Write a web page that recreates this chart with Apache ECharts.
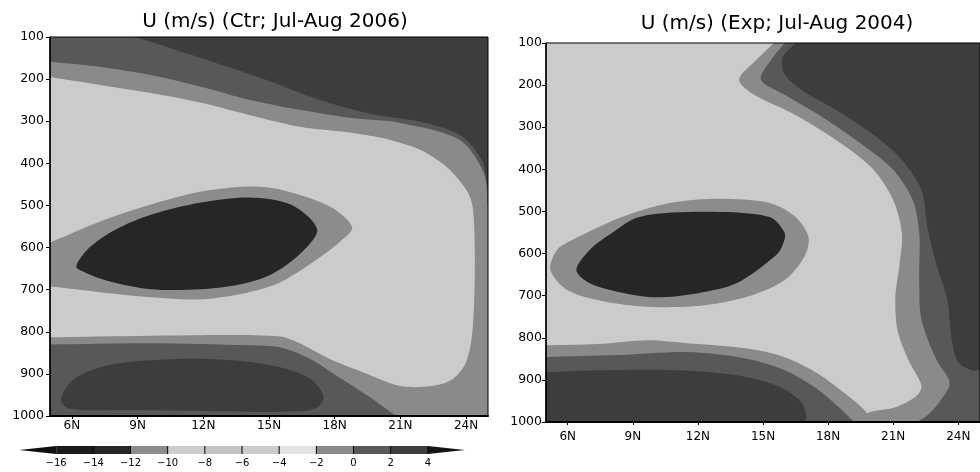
<!DOCTYPE html>
<html>
<head>
<meta charset="utf-8">
<title>U (m/s) cross sections</title>
<script src="https://cdn.jsdelivr.net/npm/echarts@6/dist/echarts.min.js"></script>
<style>
  html, body { margin: 0; padding: 0; background: #fff; }
  #main { width: 980px; height: 472px; }
</style>
</head>
<body>
<div id="main"></div>
<script>
// shading levels of U (m/s) and the grey of each interval
var levels = [-16, -14, -12, -10, -8, -6, -4, -2, 0, 2, 4];
var shades = ['#0f0f0f', '#1b1b1b', '#262626', '#8c8c8c', '#cdcdcd', '#c4c4c4',
              '#cbcbcb', '#e2e2e2', '#8a8a8a', '#585858', '#3d3d3d', '#141414'];
var barEnds = [-18, 6];

var latRange = [5, 25];
var presRange = [100, 1000];
var latTicks = [6, 9, 12, 15, 18, 21, 24];

// filled contour regions, [lat, hPa]
// Ctr; Jul-Aug 2006
var ctrBase = [[5,100],[25,100],[25,1000],[5,1000]];
var ctrBroad = [[5,195],[7.3,214],[9.6,233],[11.9,256],[14.1,285],[16.4,313],[18.7,327],[20.5,344],
    [21.9,368],[23.1,408],[24.0,462],[24.3,503],[24.4,628],[24.3,794],[24.0,872],[23.4,912],[22.4,929],
    [21.0,929],[19.3,896],[17.8,865],[16.3,825],[15.5,811],[11.9,808],[7.3,811],[5,813]];
var ctrUpper = [[5,100],[25,100],[25,503],[24.8,422],[23.7,344],[21.0,304],[18.7,292],[16.4,273],
    [14.1,249],[11.9,218],[9.6,190],[7.3,171],[5,159]];
var ctrUpperCore = [[8.9,100],[25,100],[25,462],[24.7,391],[23.7,332],[21.9,301],[19.6,282],[17.3,249],
    [14.6,197],[11.9,150]];
var ctrLow = [[5,830],[9.6,827],[14.1,832],[15.5,837],[16.9,865],[18.2,908],[19.6,955],[20.8,1000],[5,1000]];
var ctrLowCore = [[5.5,960],[6.1,912],[7.7,879],[10.5,865],[13.2,867],[15.5,884],[16.9,912],[17.5,955],
    [17.1,983],[15.5,990],[11.9,988],[8.2,986],[5.9,983]];
var ctrJet = [[5,588],[7.3,538],[9.6,498],[11.9,467],[14.1,455],[15.5,462],[17.8,503],[18.8,552],[18.2,588],
    [17.0,635],[15.5,683],[14.1,706],[11.9,723],[9.6,718],[7.3,706],[5,692]];
var ctrJetCore = [[6.2,645],[6.8,600],[8.0,557],[9.6,522],[11.9,493],[14.1,481],[16.0,498],[17.2,557],
    [16.4,616],[15.1,664],[13.7,687],[11.9,699],[9.6,699],[7.7,680],[6.6,659]];
var ctrShapes = [ctrBase, ctrBroad, ctrUpper, ctrUpperCore, ctrLow, ctrLowCore, ctrJet, ctrJetCore];
var ctrValues = [-1, -5, 1, 3, 1, 3, -11, -13];

// Exp; Jul-Aug 2004
var expBase = [[5,100],[25,100],[25,1000],[5,1000]];
var expUpper = [[15.5,100],[25,100],[25,1000],[19.6,1000],[19.8,979],[21.1,965],[22.1,937],[22.3,913],
    [21.7,853],[21.2,782],[21.1,704],[21.3,623],[21.4,551],[21.0,473],[20.1,401],[18.7,342],[16.5,271],
    [14.6,223],[13.9,187],[14.7,140]];
var expUpperMid = [[16.0,100],[25,100],[25,1000],[22.1,1000],[22.6,983],[23.2,948],[23.6,907],[23.0,853],
    [22.3,757],[22.2,669],[22.2,551],[21.9,473],[21.0,401],[19.6,342],[17.8,278],[16.0,223],[14.9,187],[15.3,145]];
var expUpperCore = [[16.5,100],[25,100],[25,877],[24.6,877],[24.0,858],[23.7,806],[23.5,711],[23.0,627],
    [22.6,544],[22.3,449],[21.4,378],[20.1,318],[18.5,263],[16.9,216],[16.0,175],[15.9,135]];
var expLow = [[5,818],[7.4,815],[9.7,806],[11.5,813],[14.2,825],[16.0,846],[17.5,884],[19.0,941],[19.8,979],
    [19.9,1000],[5,1000]];
var expLowMid = [[5,846],[8.4,841],[11.5,834],[14.2,849],[16.0,877],[17.4,918],[18.5,965],[19.2,1000],[5,1000]];
var expLowCore = [[5,882],[7.4,877],[11.1,877],[13.8,889],[15.6,913],[16.7,949],[17.0,984],[16.9,1000],[5,1000]];
var expJet = [[5.2,639],[5.5,592],[6.2,568],[8.5,513],[10.7,480],[13.0,470],[15.3,480],[16.5,513],[17.1,561],
    [16.9,608],[16.0,663],[14.5,699],[12.3,723],[10.0,727],[7.8,715],[6.0,687]];
var expJetCore = [[6.4,639],[7.0,592],[7.9,556],[9.3,513],[12.3,501],[15.3,513],[16.0,551],[15.9,580],
    [15.6,604],[13.8,670],[12.0,694],[10.0,704],[8.4,692],[7.0,670]];
var expShapes = [expBase, expUpper, expUpperMid, expUpperCore, expLow, expLowMid, expLowCore, expJet, expJetCore];
var expValues = [-5, -1, 1, 3, -1, 1, 3, -11, -13];

var font = 'DejaVu Sans';

function shadeOf(u) {
    var i = 0;
    while (i < levels.length && u >= levels[i]) i++;
    return shades[i];
}

function onEdge(d) {
    return d[0] === latRange[0] || d[0] === latRange[1] || d[1] === presRange[0] || d[1] === presRange[1];
}

function contourSeries(shapes, values, idx) {
    return {
        type: 'custom',
        xAxisIndex: idx,
        yAxisIndex: idx,
        clip: true,
        silent: true,
        data: values.map(function (u, i) { return [i, u]; }),
        renderItem: function (params, api) {
            var pts = [];
            shapes[params.dataIndex].forEach(function (d) {
                var c = api.coord(d);
                pts.push(c);
                // doubled points keep the smoothing straight along the frame
                if (onEdge(d)) pts.push(c.slice());
            });
            return {
                type: 'polygon',
                z2: params.dataIndex,
                shape: { points: pts, smooth: 0.3 },
                style: { fill: shadeOf(values[params.dataIndex]) }
            };
        }
    };
}

function latAxis(idx, margin) {
    return {
        type: 'value', gridIndex: idx, min: latRange[0], max: latRange[1], z: 11,
        axisLine: { show: true, lineStyle: { color: '#000', width: 2 } },
        axisTick: { show: true, customValues: latTicks, length: 3, lineStyle: { color: '#000' } },
        axisLabel: { customValues: latTicks, margin: margin, fontSize: 12, color: '#000', fontFamily: font,
            formatter: function (v) { return v + 'N'; } },
        splitLine: { show: false }
    };
}

function presAxis(idx, margin) {
    return {
        type: 'value', gridIndex: idx, inverse: true, min: presRange[0], max: presRange[1], interval: 100, z: 11,
        axisLine: { show: true, onZero: false, lineStyle: { color: '#000', width: 1.5 } },
        axisTick: { show: true, length: 4, lineStyle: { color: '#000' } },
        axisLabel: { margin: margin, fontSize: 12.5, color: '#000', fontFamily: font,
            formatter: function (v) { return String(v); } },
        splitLine: { show: false }
    };
}

var chart = echarts.init(document.getElementById('main'));

var option = {
    animation: false,
    backgroundColor: '#fff',
    title: [
        { text: 'U (m/s) (Ctr; Jul-Aug 2006)', left: 270, top: 7, textAlign: 'center',
          textStyle: { fontSize: 20, fontWeight: 'normal', color: '#000', fontFamily: font } },
        { text: 'U (m/s) (Exp; Jul-Aug 2004)', left: 772, top: 9, textAlign: 'center',
          textStyle: { fontSize: 20, fontWeight: 'normal', color: '#000', fontFamily: font } }
    ],
    grid: [
        { left: 50, top: 37, width: 438, height: 379, show: true, z: 10,
          backgroundColor: 'transparent', borderColor: '#000', borderWidth: 1 },
        { left: 546, top: 43, width: 443, height: 379, show: true, z: 10,
          backgroundColor: 'transparent', borderColor: '#000', borderWidth: 1 },
        { left: 19, top: 446, width: 446, height: 8 }
    ],
    xAxis: [
        latAxis(0, 4),
        latAxis(1, 9),
        {
            type: 'value', gridIndex: 2, min: barEnds[0], max: barEnds[1],
            axisLine: { show: false }, axisTick: { show: false }, splitLine: { show: false },
            axisLabel: { customValues: levels, margin: 4, fontSize: 10, color: '#000', fontFamily: font,
                formatter: function (v) { return String(v).replace('-', '\u2212'); } }
        }
    ],
    yAxis: [
        presAxis(0, 6),
        presAxis(1, 4),
        { type: 'value', gridIndex: 2, min: 0, max: 1, show: false }
    ],
    series: [
        contourSeries(ctrShapes, ctrValues, 0),
        contourSeries(expShapes, expValues, 1),
        {
            type: 'custom',
            xAxisIndex: 2,
            yAxisIndex: 2,
            silent: true,
            data: shades.map(function (c, i) { return [i, 0]; }),
            renderItem: function (params, api) {
                var i = params.dataIndex;
                var lo = i === 0 ? barEnds[0] : levels[i - 1];
                var hi = i === levels.length ? barEnds[1] : levels[i];
                var a = api.coord([lo, 0]);
                var b = api.coord([hi, 1]);
                var mid = (a[1] + b[1]) / 2;
                var fill = { fill: shades[i] };
                var kids = [];
                if (i === 0) {
                    kids.push({ type: 'polygon', shape: { points: [[a[0], mid], [b[0], b[1]], [b[0], a[1]]] }, style: fill });
                } else if (i === levels.length) {
                    kids.push({ type: 'polygon', shape: { points: [[a[0], b[1]], [b[0], mid], [a[0], a[1]]] }, style: fill });
                } else {
                    kids.push({ type: 'rect', shape: { x: a[0], y: b[1], width: b[0] - a[0], height: a[1] - b[1] }, style: fill });
                }
                if (i >= 2) {
                    kids.push({ type: 'line', shape: { x1: a[0], y1: b[1], x2: a[0], y2: a[1] },
                        style: { stroke: '#000', lineWidth: 1 } });
                }
                return { type: 'group', children: kids };
            }
        }
    ]
};

chart.setOption(option);
</script>
</body>
</html>
